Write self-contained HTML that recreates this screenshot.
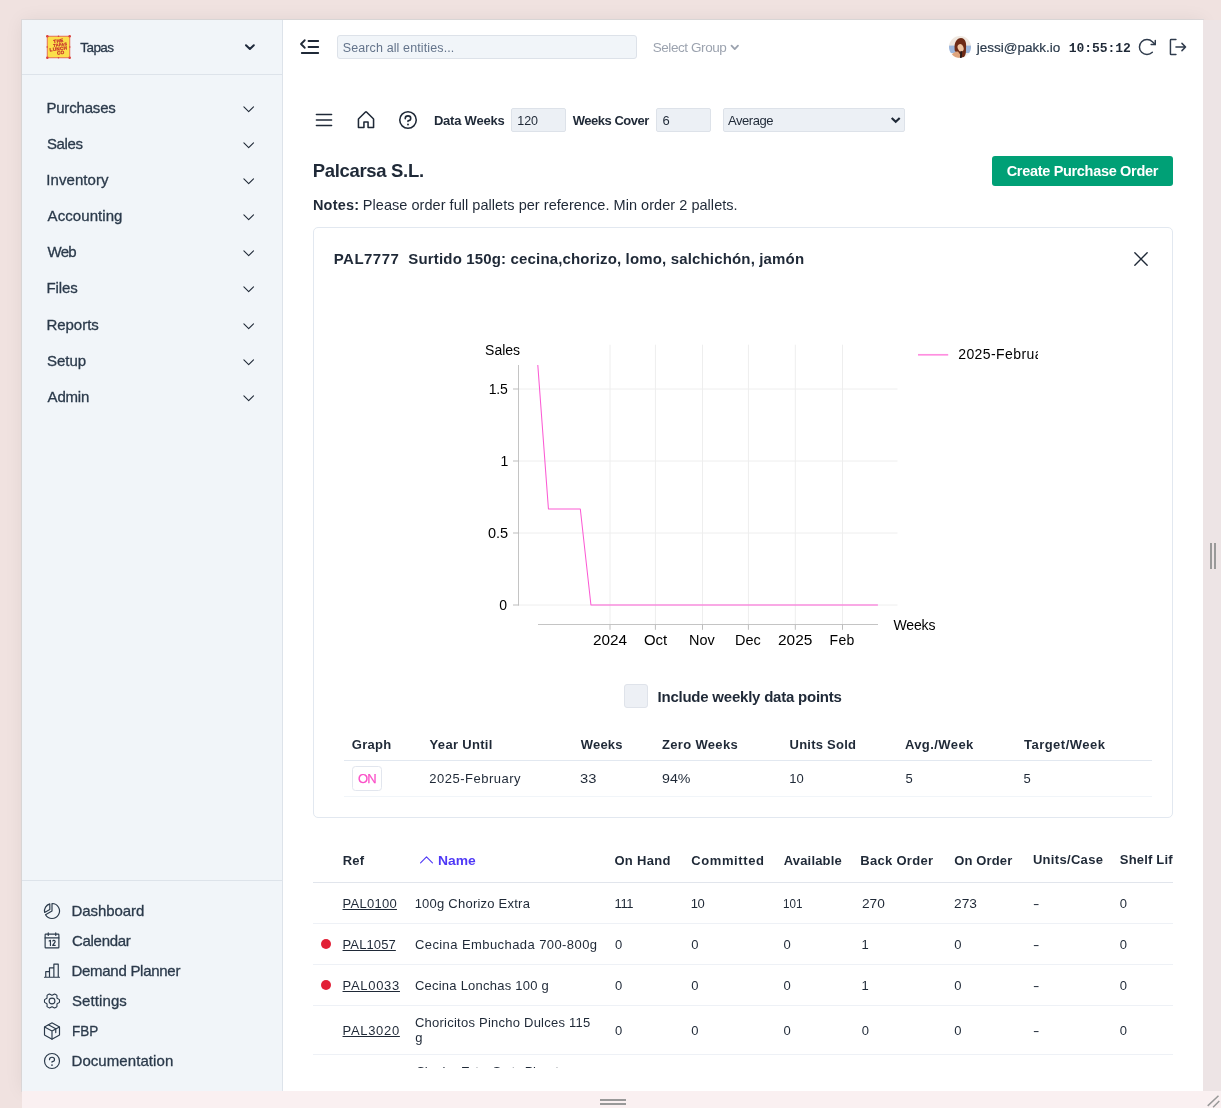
<!DOCTYPE html>
<html>
<head>
<meta charset="utf-8">
<title>Demand Planner</title>
<style>
*{box-sizing:border-box;margin:0;padding:0}
html,body{width:1221px;height:1108px;overflow:hidden}
body{background:#f0e2e0;font-family:"Liberation Sans",sans-serif;color:#1e293b;position:relative}
.a{position:absolute;white-space:nowrap}
svg{display:block}
#root{position:absolute;left:0;top:0;width:1221px;height:1108px;will-change:transform}
</style>
</head>
<body>
<div id="root">
<div class="a" style="left:22px;top:20px;width:1181px;height:1071px;background:#fff;box-shadow:0 0 0 1px rgba(185,200,205,.35),0 0 18px rgba(0,0,0,.065)"></div>
<div class="a" style="left:22px;top:20px;width:260px;height:1071px;background:#f1f5f9"></div>
<div class="a" style="left:282px;top:20px;width:1px;height:1071px;background:#dde3ea"></div>
<div class="a" style="left:22px;top:74px;width:260px;height:1px;background:#dde3ea"></div>
<div class="a" style="left:22px;top:880px;width:260px;height:1px;background:#dde3ea"></div>
<div class="a" style="left:1203px;top:20px;width:18px;height:1072px;background:#ede4e5"></div>
<div class="a" style="left:22px;top:1091px;width:1199px;height:17px;background:#faf0f1"></div>
<div class="a" style="left:600px;top:1099px;width:26px;height:2px;background:#999"></div>
<div class="a" style="left:600px;top:1103px;width:26px;height:2px;background:#999"></div>
<div class="a" style="left:1210px;top:543px;width:2px;height:26px;background:#999"></div>
<div class="a" style="left:1214px;top:543px;width:2px;height:26px;background:#999"></div>
<svg class="a" style="left:1203px;top:1091px" width="18" height="17" viewBox="0 0 18 17"><path d="M4.7 14.9L15.5 4.8M10.1 16.2L16.3 10" stroke="#999" stroke-width="1.5" fill="none"/></svg>
<svg class="a" style="left:46px;top:35px" width="25" height="24" viewBox="0 0 25 24"><rect x="1.2" y="1.2" width="22.6" height="21.6" fill="#fbdf4a" stroke="#df5148" stroke-width=".8"/><g fill="#d9403c"><circle cx="1.3" cy="1.3" r="1.25"/><circle cx="23.7" cy="1.3" r="1.25"/><circle cx="1.3" cy="22.7" r="1.25"/><circle cx="23.7" cy="22.7" r="1.25"/><circle cx="12.5" cy="1.2" r=".8"/><circle cx="12.5" cy="22.8" r=".8"/><circle cx="1.2" cy="12" r=".8"/><circle cx="23.8" cy="12" r=".8"/></g><g transform="rotate(-7 12.5 12)" fill="#c62f2c" stroke="#c62f2c" stroke-width=".25" font-family="Liberation Sans,sans-serif" font-weight="700" font-size="4.7" text-anchor="middle" letter-spacing=".25"><text x="13.2" y="7.6">THE</text><text x="14.6" y="11.3" font-size="3.9">TAPAS</text><text x="12.2" y="15.4">LUNCH</text><text x="14" y="19.6">CO</text></g></svg>
<div class="a" style="left:80.31px;top:40.00px;font-size:13.5px;line-height:15px;color:#2b3a4b;font-weight:500;letter-spacing:-0.567px;-webkit-text-stroke:0.3px #2b3a4b;">Tapas</div>
<svg class="a" style="left:243px;top:42px" width="14" height="10" viewBox="0 0 14 10"><path d="M3 3.2L6.9 7L10.8 3.2" fill="none" stroke="#1e293b" stroke-width="2" stroke-linecap="round" stroke-linejoin="round"/></svg>
<div class="a" style="left:46.38px;top:99.00px;font-size:15px;line-height:17px;color:#2b3a4b;font-weight:500;letter-spacing:-0.179px;-webkit-text-stroke:0.3px #2b3a4b;">Purchases</div>
<svg class="a" style="left:241.10px;top:100.52px;color:#1f2937" width="15.4" height="15.4" viewBox="0 0 256 256" fill="none" stroke="currentColor" stroke-width="18" stroke-linecap="round" stroke-linejoin="round"><path d="M208 96L128 176L48 96"/></svg>
<div class="a" style="left:46.93px;top:135.00px;font-size:15px;line-height:17px;color:#2b3a4b;font-weight:500;letter-spacing:-0.355px;-webkit-text-stroke:0.3px #2b3a4b;">Sales</div>
<svg class="a" style="left:241.10px;top:136.52px;color:#1f2937" width="15.4" height="15.4" viewBox="0 0 256 256" fill="none" stroke="currentColor" stroke-width="18" stroke-linecap="round" stroke-linejoin="round"><path d="M208 96L128 176L48 96"/></svg>
<div class="a" style="left:46.23px;top:171.00px;font-size:15px;line-height:17px;color:#2b3a4b;font-weight:500;letter-spacing:0.085px;-webkit-text-stroke:0.3px #2b3a4b;">Inventory</div>
<svg class="a" style="left:241.10px;top:172.52px;color:#1f2937" width="15.4" height="15.4" viewBox="0 0 256 256" fill="none" stroke="currentColor" stroke-width="18" stroke-linecap="round" stroke-linejoin="round"><path d="M208 96L128 176L48 96"/></svg>
<div class="a" style="left:47.58px;top:207.00px;font-size:15px;line-height:17px;color:#2b3a4b;font-weight:500;letter-spacing:0.074px;-webkit-text-stroke:0.3px #2b3a4b;">Accounting</div>
<svg class="a" style="left:241.10px;top:208.52px;color:#1f2937" width="15.4" height="15.4" viewBox="0 0 256 256" fill="none" stroke="currentColor" stroke-width="18" stroke-linecap="round" stroke-linejoin="round"><path d="M208 96L128 176L48 96"/></svg>
<div class="a" style="left:47.54px;top:243.00px;font-size:15px;line-height:17px;color:#2b3a4b;font-weight:500;letter-spacing:-0.753px;-webkit-text-stroke:0.3px #2b3a4b;">Web</div>
<svg class="a" style="left:241.10px;top:244.52px;color:#1f2937" width="15.4" height="15.4" viewBox="0 0 256 256" fill="none" stroke="currentColor" stroke-width="18" stroke-linecap="round" stroke-linejoin="round"><path d="M208 96L128 176L48 96"/></svg>
<div class="a" style="left:46.38px;top:279.00px;font-size:15px;line-height:17px;color:#2b3a4b;font-weight:500;letter-spacing:-0.081px;-webkit-text-stroke:0.3px #2b3a4b;">Files</div>
<svg class="a" style="left:241.10px;top:280.52px;color:#1f2937" width="15.4" height="15.4" viewBox="0 0 256 256" fill="none" stroke="currentColor" stroke-width="18" stroke-linecap="round" stroke-linejoin="round"><path d="M208 96L128 176L48 96"/></svg>
<div class="a" style="left:46.38px;top:316.00px;font-size:15px;line-height:17px;color:#2b3a4b;font-weight:500;letter-spacing:-0.013px;-webkit-text-stroke:0.3px #2b3a4b;">Reports</div>
<svg class="a" style="left:241.10px;top:317.52px;color:#1f2937" width="15.4" height="15.4" viewBox="0 0 256 256" fill="none" stroke="currentColor" stroke-width="18" stroke-linecap="round" stroke-linejoin="round"><path d="M208 96L128 176L48 96"/></svg>
<div class="a" style="left:46.93px;top:352.00px;font-size:15px;line-height:17px;color:#2b3a4b;font-weight:500;-webkit-text-stroke:0.3px #2b3a4b;">Setup</div>
<svg class="a" style="left:241.10px;top:353.52px;color:#1f2937" width="15.4" height="15.4" viewBox="0 0 256 256" fill="none" stroke="currentColor" stroke-width="18" stroke-linecap="round" stroke-linejoin="round"><path d="M208 96L128 176L48 96"/></svg>
<div class="a" style="left:47.58px;top:388.00px;font-size:15px;line-height:17px;color:#2b3a4b;font-weight:500;letter-spacing:-0.183px;-webkit-text-stroke:0.3px #2b3a4b;">Admin</div>
<svg class="a" style="left:241.10px;top:389.52px;color:#1f2937" width="15.4" height="15.4" viewBox="0 0 256 256" fill="none" stroke="currentColor" stroke-width="18" stroke-linecap="round" stroke-linejoin="round"><path d="M208 96L128 176L48 96"/></svg>
<div class="a" style="left:71.48px;top:901.80px;font-size:15px;line-height:17px;color:#2b3a4b;font-weight:500;letter-spacing:-0.064px;-webkit-text-stroke:0.3px #2b3a4b;">Dashboard</div>
<svg class="a" style="left:42.00px;top:901.00px;color:#2b3a4b" width="20" height="20" viewBox="0 0 256 256" fill="none" stroke="currentColor" stroke-width="15" stroke-linecap="round" stroke-linejoin="round"><path d="M128,128V32a96,96,0,1,1-83.14,144Z"/><path d="M100,110V36.2A96,96,0,0,0,33.4,146.6Z" /></svg>
<div class="a" style="left:71.95px;top:931.80px;font-size:15px;line-height:17px;color:#2b3a4b;font-weight:500;letter-spacing:-0.284px;-webkit-text-stroke:0.3px #2b3a4b;">Calendar</div>
<svg class="a" style="left:42.00px;top:931.00px;color:#2b3a4b" width="20" height="20" viewBox="0 0 256 256" fill="none" stroke="currentColor" stroke-width="15" stroke-linecap="round" stroke-linejoin="round"><rect x="40" y="40" width="176" height="176" rx="8"/><path d="M176 24V56M80 24V56M40 88H216"/><path d="M92 128L108 120V184"/><path d="M138.14,128a16,16,0,1,1,26.64,17.63L136,184h32"/></svg>
<div class="a" style="left:71.48px;top:961.80px;font-size:15px;line-height:17px;color:#2b3a4b;font-weight:500;letter-spacing:-0.278px;-webkit-text-stroke:0.3px #2b3a4b;">Demand Planner</div>
<svg class="a" style="left:42.00px;top:961.00px;color:#2b3a4b" width="20" height="20" viewBox="0 0 256 256" fill="none" stroke="currentColor" stroke-width="15" stroke-linecap="round" stroke-linejoin="round"><path d="M48 208V136H96M224 208H32M96 208V88H152M152 208V40H208V208"/></svg>
<div class="a" style="left:72.03px;top:991.80px;font-size:15px;line-height:17px;color:#2b3a4b;font-weight:500;letter-spacing:0.085px;-webkit-text-stroke:0.3px #2b3a4b;">Settings</div>
<svg class="a" style="left:42.00px;top:991.00px;color:#2b3a4b" width="20" height="20" viewBox="0 0 256 256" fill="none" stroke="currentColor" stroke-width="15" stroke-linecap="round" stroke-linejoin="round"><g transform="translate(128 128) scale(.93) translate(-128 -128)"><circle cx="128" cy="128" r="40"/><path d="M130.05,206.11c-1.34,0-2.69,0-4,0L94,224a104.61,104.61,0,0,1-34.11-19.2l-.12-36c-.71-1.12-1.38-2.25-2-3.41L25.9,147.24a99.15,99.15,0,0,1,0-38.46l31.84-18.1c.65-1.15,1.32-2.29,2-3.41l.16-36A104.58,104.58,0,0,1,94,32l32,17.89c1.34,0,2.69,0,4,0L162,32a104.61,104.61,0,0,1,34.11,19.2l.12,36c.71,1.12,1.38,2.25,2,3.41l31.85,18.14a99.15,99.15,0,0,1,0,38.46l-31.84,18.1c-.65,1.15-1.32,2.29-2,3.41l-.16,36A104.58,104.58,0,0,1,162,224Z"/></g></svg>
<div class="a" style="left:71.60px;top:1021.80px;font-size:15px;line-height:17px;color:#2b3a4b;font-weight:500;-webkit-text-stroke:0.3px #2b3a4b;transform:scaleX(0.9018);transform-origin:0 0;">FBP</div>
<svg class="a" style="left:42.00px;top:1021.00px;color:#2b3a4b" width="20" height="20" viewBox="0 0 256 256" fill="none" stroke="currentColor" stroke-width="15" stroke-linecap="round" stroke-linejoin="round"><path d="M32.7,76.92L128,129.08l95.3-52.16M128,129.09V232"/><path d="M131.84,25l88,48.18a8,8,0,0,1,4.16,7v95.64a8,8,0,0,1-4.16,7l-88,48.18a8,8,0,0,1-7.68,0l-88-48.18a8,8,0,0,1-4.160-7V80.180a8,8,0,0,1,4.160-7l88-48.180A8,8,0,0,1,131.840,25Z"/><path d="M81.560,48.310L176,100v48"/></svg>
<div class="a" style="left:71.48px;top:1051.80px;font-size:15px;line-height:17px;color:#2b3a4b;font-weight:500;letter-spacing:0.075px;-webkit-text-stroke:0.3px #2b3a4b;">Documentation</div>
<svg class="a" style="left:42.00px;top:1051.00px;color:#2b3a4b" width="20" height="20" viewBox="0 0 256 256" fill="none" stroke="currentColor" stroke-width="15" stroke-linecap="round" stroke-linejoin="round"><circle cx="128" cy="128" r="96"/><circle cx="128" cy="180" r="11" fill="currentColor" stroke="none"/><path d="M128,144v-8c17.67,0,32-12.54,32-28s-14.33-28-32-28S96,92.54,96,108v4"/></svg>
<svg class="a" style="left:297.70px;top:34.60px;color:#1f2937" width="24" height="24" viewBox="0 0 256 256" fill="none" stroke="currentColor" stroke-width="19" stroke-linecap="round" stroke-linejoin="round"><path d="M112 64H216M112 128H216M40 192H216M72 56L32 96L72 136"/></svg>
<div class="a" style="left:337px;top:35px;width:300px;height:24px;background:#f1f5f9;border:1px solid #dde2e9;border-radius:3px"></div>
<div class="a" style="left:342.74px;top:40.60px;font-size:12.5px;line-height:14px;color:#64748b;letter-spacing:0.119px;">Search all entities...</div>
<div class="a" style="left:652.69px;top:40.00px;font-size:13.5px;line-height:15px;color:#9ca3af;letter-spacing:-0.420px;">Select Group</div>
<svg class="a" style="left:728px;top:42px" width="14" height="11" viewBox="0 0 14 11"><path d="M3.5 3.6L6.75 7.1L10 3.6" fill="none" stroke="#9ca3af" stroke-width="1.8" stroke-linecap="round" stroke-linejoin="round"/></svg>
<svg class="a" style="left:949px;top:36px" width="22" height="22" viewBox="0 0 22 22"><defs><clipPath id="av"><circle cx="11" cy="11" r="11"/></clipPath><filter id="bl" x="-20%" y="-20%" width="140%" height="140%"><feGaussianBlur stdDeviation=".55"/></filter></defs><g clip-path="url(#av)"><g filter="url(#bl)"><rect x="-2" y="-2" width="26" height="26" fill="#efe7df"/><rect x="-2" y="9.6" width="26" height="7.6" fill="#9cb6dc"/><rect x="-2" y="17" width="26" height="8" fill="#f4eee8"/><path d="M5.6 13C5 6 8 2 12 2C16.5 2.500 17.600 7 17 12C17 16 17 19 15 21L11 22L8 16C6 16 5.5 15 5.600 13Z" fill="#6e2c16"/><path d="M2.300 20C3 17 6 15.5 9 15.500L11.500 19L10 23H2Z" fill="#dfa57e"/><ellipse cx="11.600" cy="11.800" rx="2.900" ry="3.900" fill="#efc4a2" transform="rotate(-20 11.6 11.8)"/><path d="M11.300 15.500L13.200 15L12.800 22H11Z" fill="#2a1b1a"/></g></g></svg>
<div class="a" style="left:976.74px;top:39.60px;font-size:13.5px;line-height:15px;color:#2b3a4b;-webkit-text-stroke:0.2px #2b3a4b;">jessi@pakk.io</div>
<div class="a" style="left:1068.64px;top:40.60px;font-size:13px;line-height:15px;color:#1f2937;font-weight:700;font-family:'Liberation Mono',monospace;letter-spacing:-0.044px;">10:55:12</div>
<svg class="a" style="left:1136.30px;top:36.00px;color:#2f3b4c" width="22" height="22" viewBox="0 0 256 256" fill="none" stroke="currentColor" stroke-width="17" stroke-linecap="round" stroke-linejoin="round"><path d="M176.2 99.7H224.2V51.7"/><path d="M190.2,190.2a88,88,0,1,1,0-124.4l34,33.9"/></svg>
<svg class="a" style="left:1166.85px;top:36.00px;color:#2f3b4c" width="22" height="22" viewBox="0 0 256 256" fill="none" stroke="currentColor" stroke-width="17" stroke-linecap="round" stroke-linejoin="round"><path d="M174 86L216 128L174 170M104 128H216"/><path d="M104,216H48a8,8,0,0,1-8-8V48a8,8,0,0,1,8-8h56"/></svg>
<svg class="a" style="left:313.00px;top:109.00px;color:#1f2937" width="22" height="22" viewBox="0 0 256 256" fill="none" stroke="currentColor" stroke-width="18" stroke-linecap="round" stroke-linejoin="round"><path d="M40 64H216M40 128H216M40 192H216"/></svg>
<svg class="a" style="left:354.90px;top:108.60px;color:#1f2937" width="22" height="22" viewBox="0 0 256 256" fill="none" stroke="currentColor" stroke-width="18" stroke-linecap="round" stroke-linejoin="round"><path d="M104,216V152h48v64h64V120a8,8,0,0,0-2.34-5.66l-80-80a8,8,0,0,0-11.32,0l-80,80A8,8,0,0,0,40,120v96Z"/></svg>
<svg class="a" style="left:397.00px;top:108.80px;color:#1f2937" width="22" height="22" viewBox="0 0 256 256" fill="none" stroke="currentColor" stroke-width="18" stroke-linecap="round" stroke-linejoin="round"><circle cx="128" cy="128" r="96"/><circle cx="128" cy="180" r="11" fill="currentColor" stroke="none"/><path d="M128,144v-8c17.67,0,32-12.54,32-28s-14.33-28-32-28S96,92.54,96,108v4"/></svg>
<div class="a" style="left:433.94px;top:113.00px;font-size:13px;line-height:15px;color:#1f2937;font-weight:700;letter-spacing:-0.230px;">Data Weeks</div>
<div class="a" style="left:511px;top:108px;width:55px;height:24px;background:#ecf0f5;border:1px solid #dde2e9;border-radius:2px"></div>
<div class="a" style="left:517.26px;top:114.00px;font-size:12.5px;line-height:14px;color:#1f2937;letter-spacing:-0.069px;">120</div>
<div class="a" style="left:572.80px;top:113.00px;font-size:13px;line-height:15px;color:#1f2937;font-weight:700;letter-spacing:-0.493px;">Weeks Cover</div>
<div class="a" style="left:656px;top:108px;width:55px;height:24px;background:#ecf0f5;border:1px solid #dde2e9;border-radius:2px"></div>
<div class="a" style="left:662.55px;top:113.00px;font-size:13px;line-height:15px;color:#1f2937;">6</div>
<div class="a" style="left:723px;top:108px;width:182px;height:24px;background:#ecf0f5;border:1px solid #dde2e9;border-radius:2px"></div>
<div class="a" style="left:727.88px;top:113.00px;font-size:13px;line-height:15px;color:#1f2937;letter-spacing:-0.416px;">Average</div>
<svg class="a" style="left:889px;top:115px" width="14" height="10" viewBox="0 0 14 10"><path d="M2.7 2.9L6.7 6.7L10.7 2.9" fill="none" stroke="#1f2937" stroke-width="2.1" stroke-linecap="butt" stroke-linejoin="miter"/></svg>
<div class="a" style="left:312.67px;top:160.00px;font-size:18.5px;line-height:21px;color:#1f2937;font-weight:700;letter-spacing:-0.318px;">Palcarsa S.L.</div>
<div class="a" style="left:992px;top:156px;width:181px;height:30px;background:#00a076;border-radius:3px"></div>
<div class="a" style="left:1006.72px;top:163.00px;font-size:14.5px;line-height:16px;color:#fff;font-weight:600;letter-spacing:-0.319px;">Create Purchase Order</div>
<div class="a" style="left:312.94px;top:197.30px;font-size:14.5px;line-height:16px;color:#1f2937;font-weight:700;letter-spacing:0.185px;">Notes:</div>
<div class="a" style="left:362.82px;top:197.30px;font-size:14.5px;line-height:16px;color:#1f2937;letter-spacing:0.041px;">Please order full pallets per reference. Min order 2 pallets.</div>
<div class="a" style="left:313px;top:227px;width:860px;height:591px;border:1px solid #e2e8f0;border-radius:5px;background:#fff"></div>
<div class="a" style="left:333.71px;top:249.80px;font-size:15px;line-height:17px;color:#1f2937;font-weight:700;letter-spacing:0.483px;">PAL7777</div>
<div class="a" style="left:408.37px;top:249.80px;font-size:15px;line-height:17px;color:#1f2937;font-weight:700;letter-spacing:0.157px;">Surtido 150g: cecina,chorizo, lomo, salchichón, jamón</div>
<svg class="a" style="left:1130.20px;top:248.00px;color:#1f2937" width="22" height="22" viewBox="0 0 256 256" fill="none" stroke="currentColor" stroke-width="16" stroke-linecap="round" stroke-linejoin="round"><path d="M200 56L56 200M200 200L56 56"/></svg>
<svg class="a" style="left:440px;top:330px" width="600" height="330" viewBox="440 330 600 330" fill="none"><path d="M519 605.0H897.5" stroke="#eeeeee" stroke-width="1"/><path d="M519 533.0H897.5" stroke="#eeeeee" stroke-width="1"/><path d="M519 461.0H897.5" stroke="#eeeeee" stroke-width="1"/><path d="M519 389.0H897.5" stroke="#eeeeee" stroke-width="1"/><path d="M610 344.7V624" stroke="#eeeeee" stroke-width="1"/><path d="M655.4 344.7V624" stroke="#eeeeee" stroke-width="1"/><path d="M702.5 344.7V624" stroke="#eeeeee" stroke-width="1"/><path d="M748.4 344.7V624" stroke="#eeeeee" stroke-width="1"/><path d="M795.3 344.7V624" stroke="#eeeeee" stroke-width="1"/><path d="M842.5 344.7V624" stroke="#eeeeee" stroke-width="1"/><path d="M518.5 365V605.5" stroke="#c4c4c4" stroke-width="1"/><path d="M513 605.0H519" stroke="#bdbdbd" stroke-width="1"/><path d="M513 533.0H519" stroke="#bdbdbd" stroke-width="1"/><path d="M513 461.0H519" stroke="#bdbdbd" stroke-width="1"/><path d="M513 389.0H519" stroke="#bdbdbd" stroke-width="1"/><path d="M538 624.5H878" stroke="#c4c4c4" stroke-width="1"/><path d="M610 624.5V629.8" stroke="#bdbdbd" stroke-width="1"/><path d="M655.4 624.5V629.8" stroke="#bdbdbd" stroke-width="1"/><path d="M702.5 624.5V629.8" stroke="#bdbdbd" stroke-width="1"/><path d="M748.4 624.5V629.8" stroke="#bdbdbd" stroke-width="1"/><path d="M795.3 624.5V629.8" stroke="#bdbdbd" stroke-width="1"/><path d="M842.5 624.5V629.8" stroke="#bdbdbd" stroke-width="1"/><path d="M537.80 365.00 L548.43 509.00 L580.31 509.00 L590.94 605.00 L877.90 605.00" stroke="#fb5cd4" stroke-width="1.05" stroke-linejoin="round"/><path d="M918 354.8H948.2" stroke="#ff8fe0" stroke-width="1.7"/></svg>
<div class="a" style="left:485.07px;top:342.00px;font-size:14px;line-height:16px;color:#000;letter-spacing:-0.024px;">Sales</div>
<div class="a" style="left:488.65px;top:380.80px;font-size:14px;line-height:16px;color:#000;letter-spacing:-0.116px;">1.5</div>
<div class="a" style="left:500.45px;top:452.80px;font-size:14px;line-height:16px;color:#000;">1</div>
<div class="a" style="left:487.74px;top:524.80px;font-size:14px;line-height:16px;color:#000;transform:scaleX(1.0360);transform-origin:0 0;">0.5</div>
<div class="a" style="left:499.36px;top:596.80px;font-size:14px;line-height:16px;color:#000;">0</div>
<div class="a" style="left:592.63px;top:631.70px;font-size:14px;line-height:16px;color:#000;transform:scaleX(1.0949);transform-origin:0 0;">2024</div>
<div class="a" style="left:643.51px;top:631.70px;font-size:14px;line-height:16px;color:#000;transform:scaleX(1.0649);transform-origin:0 0;">Oct</div>
<div class="a" style="left:689.03px;top:631.70px;font-size:14px;line-height:16px;color:#000;transform:scaleX(1.0324);transform-origin:0 0;">Nov</div>
<div class="a" style="left:734.62px;top:631.70px;font-size:14px;line-height:16px;color:#000;transform:scaleX(1.0343);transform-origin:0 0;">Dec</div>
<div class="a" style="left:777.83px;top:631.70px;font-size:14px;line-height:16px;color:#000;transform:scaleX(1.1013);transform-origin:0 0;">2025</div>
<div class="a" style="left:829.56px;top:631.70px;font-size:14px;line-height:16px;color:#000;letter-spacing:0.291px;">Feb</div>
<div class="a" style="left:893.55px;top:616.60px;font-size:14px;line-height:16px;color:#000;letter-spacing:-0.171px;">Weeks</div>
<div class="a" style="left:950px;top:340px;width:87.5px;height:30px;overflow:hidden"><div class="a" style="left:8.20px;top:5.70px;font-size:14px;line-height:16px;color:#000;letter-spacing:0.418px;">2025-February</div></div>
<div class="a" style="left:624px;top:684px;width:24px;height:24px;background:#edf0f5;border:1px solid #dfe3ea;border-radius:3px"></div>
<div class="a" style="left:657.51px;top:687.90px;font-size:15px;line-height:17px;color:#1f2937;font-weight:700;letter-spacing:-0.226px;">Include weekly data points</div>
<div class="a" style="left:351.78px;top:737.00px;font-size:13px;line-height:15px;color:#1f2937;font-weight:700;letter-spacing:0.308px;">Graph</div>
<div class="a" style="left:429.59px;top:737.00px;font-size:13px;line-height:15px;color:#1f2937;font-weight:700;letter-spacing:0.307px;">Year Until</div>
<div class="a" style="left:580.80px;top:737.00px;font-size:13px;line-height:15px;color:#1f2937;font-weight:700;letter-spacing:0.168px;">Weeks</div>
<div class="a" style="left:661.93px;top:737.00px;font-size:13px;line-height:15px;color:#1f2937;font-weight:700;letter-spacing:0.340px;">Zero Weeks</div>
<div class="a" style="left:789.52px;top:737.00px;font-size:13px;line-height:15px;color:#1f2937;font-weight:700;letter-spacing:0.240px;">Units Sold</div>
<div class="a" style="left:904.89px;top:737.00px;font-size:13px;line-height:15px;color:#1f2937;font-weight:700;letter-spacing:0.420px;">Avg./Week</div>
<div class="a" style="left:1023.97px;top:737.00px;font-size:13px;line-height:15px;color:#1f2937;font-weight:700;letter-spacing:0.482px;">Target/Week</div>
<div class="a" style="left:344px;top:760px;width:808px;height:1px;background:#e2e8f0"></div>
<div class="a" style="left:344px;top:796px;width:808px;height:1px;background:#f1f5f9"></div>
<div class="a" style="left:352.3px;top:766px;width:29.3px;height:24.6px;border:1px solid #e2e6ee;border-radius:3.5px;background:#fff"></div>
<div class="a" style="left:357.90px;top:771.00px;font-size:13px;line-height:15px;color:#fb50c8;letter-spacing:-0.643px;-webkit-text-stroke:0.25px #fb50c8;">ON</div>
<div class="a" style="left:429.15px;top:770.70px;font-size:13px;line-height:15px;color:#1f2937;letter-spacing:0.517px;">2025-February</div>
<div class="a" style="left:580.25px;top:770.70px;font-size:13px;line-height:15px;color:#1f2937;transform:scaleX(1.1338);transform-origin:0 0;">33</div>
<div class="a" style="left:661.64px;top:770.70px;font-size:13px;line-height:15px;color:#1f2937;transform:scaleX(1.0938);transform-origin:0 0;">94%</div>
<div class="a" style="left:789.32px;top:770.70px;font-size:13px;line-height:15px;color:#1f2937;letter-spacing:-0.084px;">10</div>
<div class="a" style="left:905.38px;top:770.70px;font-size:13px;line-height:15px;color:#1f2937;">5</div>
<div class="a" style="left:1023.58px;top:770.70px;font-size:13px;line-height:15px;color:#1f2937;">5</div>
<div class="a" style="left:313px;top:835px;width:860px;height:232.5px;overflow:hidden"><div class="a" style="left:29.74px;top:17.50px;font-size:13px;line-height:15px;color:#1f2937;font-weight:700;letter-spacing:0.191px;">Ref</div><svg class="a" style="left:104.30px;top:15.90px;color:#4f39f6" width="19" height="19" viewBox="0 0 256 256" fill="none" stroke="currentColor" stroke-width="15" stroke-linecap="round" stroke-linejoin="round"><path d="M48 160L128 80L208 160"/></svg><div class="a" style="left:125.18px;top:17.50px;font-size:13px;line-height:15px;color:#4f39f6;font-weight:700;transform:scaleX(1.0672);transform-origin:0 0;">Name</div><div class="a" style="left:301.38px;top:17.50px;font-size:13px;line-height:15px;color:#1f2937;font-weight:700;letter-spacing:0.334px;">On Hand</div><div class="a" style="left:378.18px;top:17.50px;font-size:13px;line-height:15px;color:#1f2937;font-weight:700;letter-spacing:0.611px;">Committed</div><div class="a" style="left:470.69px;top:17.50px;font-size:13px;line-height:15px;color:#1f2937;font-weight:700;letter-spacing:0.181px;">Available</div><div class="a" style="left:547.24px;top:17.50px;font-size:13px;line-height:15px;color:#1f2937;font-weight:700;letter-spacing:0.295px;">Back Order</div><div class="a" style="left:641.28px;top:17.50px;font-size:13px;line-height:15px;color:#1f2937;font-weight:700;letter-spacing:0.135px;">On Order</div><div class="a" style="left:719.92px;top:16.50px;font-size:13px;line-height:15px;color:#1f2937;font-weight:700;letter-spacing:0.314px;">Units/Case</div><div class="a" style="left:806.83px;top:16.50px;font-size:13px;line-height:15px;color:#1f2937;font-weight:700;letter-spacing:0.190px;">Shelf Life</div><div class="a" style="left:0px;top:47px;width:860px;height:1px;background:#e1e5ec"></div><div class="a" style="left:0px;top:88px;width:860px;height:1px;background:#eef1f6"></div><div class="a" style="left:0px;top:129px;width:860px;height:1px;background:#eef1f6"></div><div class="a" style="left:0px;top:170px;width:860px;height:1px;background:#eef1f6"></div><div class="a" style="left:0px;top:219px;width:860px;height:1px;background:#eef1f6"></div><div class="a" style="left:29.54px;top:60.70px;font-size:13px;line-height:15px;color:#1f2937;letter-spacing:0.271px;text-decoration:underline;text-decoration-thickness:1px;text-underline-offset:1px;">PAL0100</div><div class="a" style="left:101.63px;top:60.70px;font-size:13px;line-height:15px;color:#1f2937;letter-spacing:0.235px;">100g Chorizo Extra</div><div class="a" style="left:301.62px;top:60.70px;font-size:13px;line-height:15px;color:#1f2937;letter-spacing:-0.426px;">111</div><div class="a" style="left:377.73px;top:60.70px;font-size:13px;line-height:15px;color:#1f2937;letter-spacing:-0.384px;">10</div><div class="a" style="left:470.13px;top:60.70px;font-size:13px;line-height:15px;color:#1f2937;transform:scaleX(0.8962);transform-origin:0 0;">101</div><div class="a" style="left:548.52px;top:60.70px;font-size:13px;line-height:15px;color:#1f2937;transform:scaleX(1.0516);transform-origin:0 0;">270</div><div class="a" style="left:641.11px;top:60.70px;font-size:13px;line-height:15px;color:#1f2937;transform:scaleX(1.0549);transform-origin:0 0;">273</div><div class="a" style="left:719.86px;top:60.70px;font-size:13px;line-height:15px;color:#1f2937;transform:scaleX(1.4757);transform-origin:0 0;">-</div><div class="a" style="left:806.70px;top:60.70px;font-size:13px;line-height:15px;color:#1f2937;">0</div><div class="a" style="left:7.899999999999977px;top:103.89999999999998px;width:10.2px;height:10.2px;background:#e22036;border-radius:50%"></div><div class="a" style="left:29.54px;top:101.80px;font-size:13px;line-height:15px;color:#1f2937;letter-spacing:0.112px;text-decoration:underline;text-decoration-thickness:1px;text-underline-offset:1px;">PAL1057</div><div class="a" style="left:101.95px;top:101.80px;font-size:13px;line-height:15px;color:#1f2937;letter-spacing:0.420px;">Cecina Embuchada 700-800g</div><div class="a" style="left:302.10px;top:101.80px;font-size:13px;line-height:15px;color:#1f2937;">0</div><div class="a" style="left:378.20px;top:101.80px;font-size:13px;line-height:15px;color:#1f2937;">0</div><div class="a" style="left:470.50px;top:101.80px;font-size:13px;line-height:15px;color:#1f2937;">0</div><div class="a" style="left:548.62px;top:101.80px;font-size:13px;line-height:15px;color:#1f2937;">1</div><div class="a" style="left:641.30px;top:101.80px;font-size:13px;line-height:15px;color:#1f2937;">0</div><div class="a" style="left:719.86px;top:101.80px;font-size:13px;line-height:15px;color:#1f2937;transform:scaleX(1.4757);transform-origin:0 0;">-</div><div class="a" style="left:806.70px;top:101.80px;font-size:13px;line-height:15px;color:#1f2937;">0</div><div class="a" style="left:7.899999999999977px;top:144.89999999999998px;width:10.2px;height:10.2px;background:#e22036;border-radius:50%"></div><div class="a" style="left:29.54px;top:142.50px;font-size:13px;line-height:15px;color:#1f2937;letter-spacing:0.698px;text-decoration:underline;text-decoration-thickness:1px;text-underline-offset:1px;">PAL0033</div><div class="a" style="left:101.95px;top:142.50px;font-size:13px;line-height:15px;color:#1f2937;letter-spacing:0.232px;">Cecina Lonchas 100 g</div><div class="a" style="left:302.10px;top:142.50px;font-size:13px;line-height:15px;color:#1f2937;">0</div><div class="a" style="left:378.20px;top:142.50px;font-size:13px;line-height:15px;color:#1f2937;">0</div><div class="a" style="left:470.50px;top:142.50px;font-size:13px;line-height:15px;color:#1f2937;">0</div><div class="a" style="left:548.62px;top:142.50px;font-size:13px;line-height:15px;color:#1f2937;">1</div><div class="a" style="left:641.30px;top:142.50px;font-size:13px;line-height:15px;color:#1f2937;">0</div><div class="a" style="left:719.86px;top:142.50px;font-size:13px;line-height:15px;color:#1f2937;transform:scaleX(1.4757);transform-origin:0 0;">-</div><div class="a" style="left:806.70px;top:142.50px;font-size:13px;line-height:15px;color:#1f2937;">0</div><div class="a" style="left:29.54px;top:187.60px;font-size:13px;line-height:15px;color:#1f2937;letter-spacing:0.687px;text-decoration:underline;text-decoration-thickness:1px;text-underline-offset:1px;">PAL3020</div><div class="a" style="left:302.10px;top:187.60px;font-size:13px;line-height:15px;color:#1f2937;">0</div><div class="a" style="left:378.20px;top:187.60px;font-size:13px;line-height:15px;color:#1f2937;">0</div><div class="a" style="left:470.50px;top:187.60px;font-size:13px;line-height:15px;color:#1f2937;">0</div><div class="a" style="left:548.70px;top:187.60px;font-size:13px;line-height:15px;color:#1f2937;">0</div><div class="a" style="left:641.30px;top:187.60px;font-size:13px;line-height:15px;color:#1f2937;">0</div><div class="a" style="left:719.86px;top:187.60px;font-size:13px;line-height:15px;color:#1f2937;transform:scaleX(1.4757);transform-origin:0 0;">-</div><div class="a" style="left:806.70px;top:187.60px;font-size:13px;line-height:15px;color:#1f2937;">0</div><div class="a" style="left:101.95px;top:180.00px;font-size:13px;line-height:15px;color:#1f2937;letter-spacing:0.239px;">Choricitos Pincho Dulces 115</div><div class="a" style="left:102.26px;top:195.20px;font-size:13px;line-height:15px;color:#1f2937;">g</div><div class="a" style="left:102.85px;top:229.40px;font-size:13px;line-height:15px;color:#1f2937;letter-spacing:-0.411px;">Chorizo Extra Sarta Picante</div></div>
</div>
</body>
</html>
